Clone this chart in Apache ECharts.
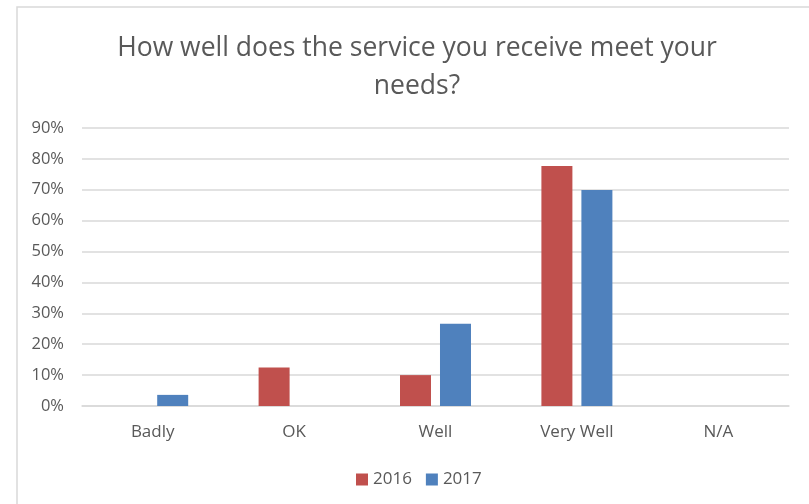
<!DOCTYPE html>
<html>
<head>
<meta charset="utf-8">
<script src="https://cdn.jsdelivr.net/npm/echarts@6/dist/echarts.min.js"></script>
<style>
  html, body { margin: 0; padding: 0; background: #fff; }
  #chart { width: 809px; height: 504px; }
</style>
</head>
<body>
<div id="chart"></div>
<script>
// Survey responses: share of respondents per answer, by year
const categories = ['Badly', 'OK', 'Well', 'Very Well', 'N/A'];
const values2016 = [0, 12.5, 10, 77.7, 0];
const values2017 = [3.6, 0, 26.6, 69.9, 0];
const yTicks = { min: 0, max: 90, interval: 10 };
const chartTitle = 'How well does the service you receive meet your\nneeds?';

const textColor = '#595959';
const fontFamily = '"Open Sans", "Noto Sans", sans-serif';

const chart = echarts.init(document.getElementById('chart'), null, { renderer: 'canvas' });

chart.setOption({
  animation: false,
  backgroundColor: '#ffffff',
  graphic: [
    {
      // frame around the chart area
      type: 'rect',
      shape: { x: 17, y: 7, width: 820, height: 520 },
      style: { fill: 'none', stroke: '#d9d9d9', lineWidth: 1.5 },
      silent: true
    },
    {
      // two-line title, centred over the framed area
      type: 'text',
      x: 417,
      y: 29,
      silent: true,
      style: {
        text: chartTitle,
        textAlign: 'center',
        textVerticalAlign: 'top',
        fill: textColor,
        fontFamily: fontFamily,
        fontSize: 26.5,
        lineHeight: 38
      }
    }
  ],
  legend: {
    top: 466,
    left: 351,
    itemWidth: 12,
    itemHeight: 12,
    itemGap: 14,
    icon: 'rect',
    textStyle: { color: textColor, fontFamily: fontFamily, fontSize: 17 },
    data: ['2016', '2017']
  },
  grid: { left: 82, right: 20, top: 128, bottom: 98, containLabel: false },
  xAxis: {
    type: 'category',
    data: categories,
    axisLine: { lineStyle: { color: '#d9d9d9', width: 1.5 } },
    axisTick: { show: false },
    axisLabel: { color: textColor, fontFamily: fontFamily, fontSize: 17, margin: 18 }
  },
  yAxis: {
    type: 'value',
    min: yTicks.min,
    max: yTicks.max,
    interval: yTicks.interval,
    axisLine: { show: false },
    axisTick: { show: false },
    splitLine: { lineStyle: { color: '#d9d9d9', width: 1.5 } },
    axisLabel: {
      color: textColor,
      fontFamily: fontFamily,
      fontSize: 16.5,
      margin: 18,
      formatter: '{value}%'
    }
  },
  series: [
    {
      name: '2016',
      type: 'bar',
      data: values2016,
      barWidth: 31,
      barGap: '29%',
      itemStyle: { color: '#c0504d' }
    },
    {
      name: '2017',
      type: 'bar',
      data: values2017,
      barWidth: 31,
      barGap: '29%',
      itemStyle: { color: '#4f81bd' }
    }
  ]
});
</script>
</body>
</html>
